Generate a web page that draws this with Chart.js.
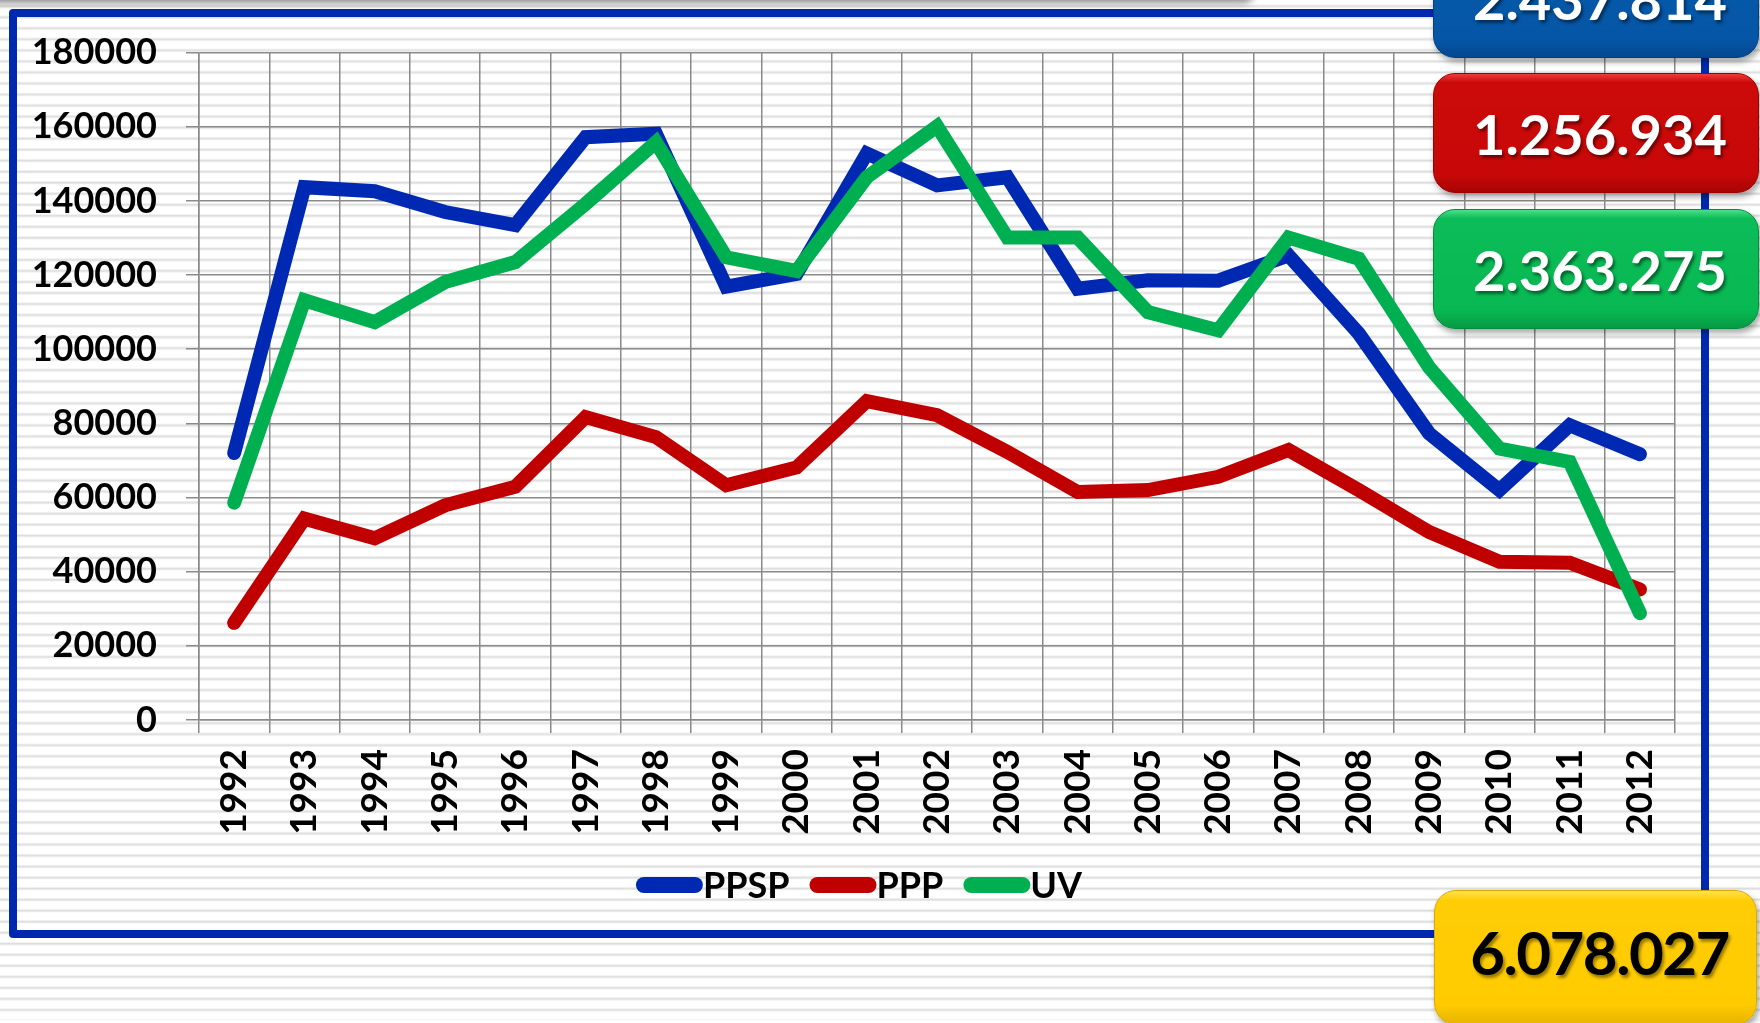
<!DOCTYPE html>
<html>
<head>
<meta charset="utf-8">
<script src="https://cdn.jsdelivr.net/npm/chart.js@4.4.1/dist/chart.umd.min.js"></script>
<style>
  html, body { margin: 0; padding: 0; }
  body {
    width: 1760px; height: 1023px; overflow: hidden; position: relative;
    background-color: #fff;
    background-image: repeating-linear-gradient(to bottom,
      #fff 0, #fff 7px, #d9d9d9 9px, #fff 11.03px);
    background-position: 0 -2.76px;
    font-family: Lato, "Open Sans", sans-serif;
  }
  /* shadow of the shape cut off above the page */
  .topShade {
    position: absolute; left: -20px; top: -30px; width: 1275px; height: 30px;
    background: #fff; box-shadow: 0 3px 7px rgba(0,0,0,0.45); border-radius: 0 0 12px 0;
  }
  .frame {
    position: absolute; left: 9px; top: 9px; width: 1700px; height: 929px;
    box-sizing: border-box; border: 8px solid #0029b0; border-radius: 4px;
  }
  .chartBox { position: absolute; left: 17px; top: 2px; width: 1684px; height: 929px; }
  .badge {
    position: absolute; left: 1433px; width: 326px; height: 120px;
    box-sizing: border-box; border-radius: 22px;
    display: flex; align-items: center; justify-content: center;
    font: bold 56px Lato, sans-serif; color: #fff;
    text-shadow: 2px 3px 3px rgba(0,0,0,0.45);
    box-shadow: 2px 4px 6px rgba(0,0,0,0.35);
    padding-left: 8px;
  }
  .b-blue   { top: -62px; background: linear-gradient(#2a78c8 0, #0659aa 7%, #0556a6 85%, #03488f 100%); border: 1px solid #03407f; }
  .b-red    { top: 73px;  background: linear-gradient(#f03a3a 0, #cc0a0a 7%, #c80808 85%, #a80404 100%); border: 1px solid #9a0000; }
  .b-green  { top: 209px; background: linear-gradient(#4be08a 0, #0cbc58 7%, #08b852 85%, #069a44 100%); border: 1px solid #05893c; }
  .b-yellow { top: 890px; left: 1434px; width: 323px; height: 135px; padding-bottom: 12px;
              background: linear-gradient(#ffe24a 0, #ffcd06 7%, #ffcb00 85%, #e8b400 100%); border: 1px solid #d9a800;
              color: #000; font-size: 60px; letter-spacing: -1.5px; text-shadow: 2px 3px 3px rgba(0,0,0,0.4); }
</style>
</head>
<body>
<div class="topShade"></div>
<div class="frame"></div>
<div class="chartBox"><canvas id="chart"></canvas></div>
<div class="badge b-blue">2.437.814</div>
<div class="badge b-red">1.256.934</div>
<div class="badge b-green">2.363.275</div>
<div class="badge b-yellow">6.078.027</div>

<script>
  // values
  const years = ['1992', '1993', '1994', '1995', '1996', '1997', '1998', '1999', '2000', '2001', '2002',
                 '2003', '2004', '2005', '2006', '2007', '2008', '2009', '2010', '2011', '2012'];
  const ppsp = [72000, 143700, 142600, 137000, 133500, 157200, 158100, 116900, 120300, 152800, 144200,
                146400, 116300, 118600, 118500, 125300, 104200, 77300, 62000, 79500, 71700];
  const ppp  = [26200, 54300, 49000, 57900, 62900, 81700, 76300, 63300, 68100, 86000, 82200,
                72300, 61500, 62000, 65600, 72800, 62000, 50700, 42700, 42400, 35200];
  const uv   = [58600, 113200, 107300, 118100, 123500, 139200, 155800, 124800, 121100, 146400, 160100,
                130100, 130100, 110000, 105100, 130100, 124400, 95100, 73200, 69600, 28800];
  const yMax = 180000;
  const yStep = 20000;

  const GRID = '#8a8a8a';
  const FONT = 'Lato';

  // legend: thick rounded line followed directly by the label
  const lineLegend = {
    id: 'lineLegend',
    afterDraw(chart) {
      const ctx = chart.ctx;
      const sets = chart.data.datasets;
      const SYM = 67, GAP = 20;
      ctx.save();
      ctx.font = 'bold 36px ' + FONT;
      const widths = sets.map(d => SYM + ctx.measureText(d.label).width);
      const total = widths.reduce((a, b) => a + b, 0) + GAP * (sets.length - 1);
      let x = chart.width / 2 - total / 2;
      const y = chart.height - 46;
      sets.forEach((d, i) => {
        ctx.strokeStyle = d.borderColor;
        ctx.lineWidth = 16;
        ctx.lineCap = 'round';
        ctx.beginPath();
        ctx.moveTo(x + 8, y);
        ctx.lineTo(x + SYM - 8, y);
        ctx.stroke();
        ctx.fillStyle = '#000';
        ctx.textAlign = 'left';
        ctx.textBaseline = 'alphabetic';
        ctx.fillText(d.label, x + SYM, y + 13);
        x += widths[i] + GAP;
      });
      ctx.restore();
    }
  };

  function lineSet(label, data, color, order) {
    return {
      label, data, order,
      borderColor: color,
      backgroundColor: color,
      borderWidth: 14,
      borderCapStyle: 'round',
      borderJoinStyle: 'miter',
      pointRadius: 0,
      tension: 0,
      fill: false,
    };
  }

  function draw() {
    new Chart(document.getElementById('chart'), {
      type: 'line',
      data: {
        labels: years,
        datasets: [
          lineSet('PPSP', ppsp, '#0029b3', 2),
          lineSet('PPP', ppp, '#c00000', 1),
          lineSet('UV', uv, '#00b050', 0),
        ],
      },
      options: {
        responsive: true,
        maintainAspectRatio: false,
        animation: false,
        layout: { padding: { top: 19, right: 25, bottom: 71, left: 0 } },
        plugins: { legend: { display: false }, tooltip: { enabled: false } },
        scales: {
          x: {
            offset: true,
            grid: { offset: true, color: GRID, lineWidth: 1.5, tickLength: 13 },
            border: { color: GRID, width: 1.5 },
            ticks: {
              color: '#000', autoSkip: false, minRotation: 90, maxRotation: 90, padding: 16,
              font: { family: FONT, weight: 'bold', size: 37 },
            },
            afterFit: s => { s.height = 140; },
          },
          y: {
            min: 0, max: yMax,
            grid: { color: GRID, lineWidth: 1.5, tickLength: 13 },
            border: { color: GRID, width: 1.5 },
            ticks: {
              stepSize: yStep, color: '#000', padding: 29,
              font: { family: FONT, weight: 'bold', size: 36 },
              callback: v => String(v),
            },
            afterFit: s => { s.width = 182; },
          },
        },
      },
      plugins: [lineLegend],
    });
  }

  document.fonts.load('bold 36px ' + FONT).then(draw, draw);
</script>
</body>
</html>
